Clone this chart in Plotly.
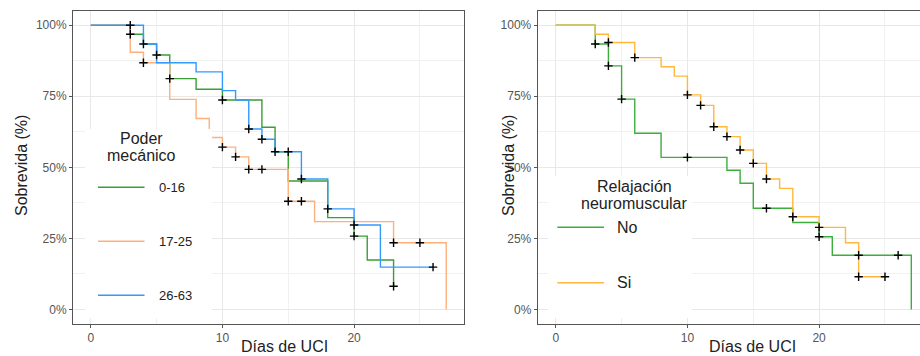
import plotly.graph_objects as go

# ---------------- data ----------------
# Left panel: "Poder mecánico"
mp_labels = ["0-16", "17-25", "26-63"]
t_016 = [0, 3, 4, 5, 6, 8, 10, 13, 14, 15, 18, 20, 21, 23]
s_016 = [100, 96.8, 93.4, 89.5, 81.2, 77.5, 73.7, 64.1, 55.5, 45.2, 32.3, 25.8, 17.4, 8.2]
c_016 = [3, 5, 6, 10, 14, 20, 23]

t_1725 = [0, 3, 4, 6, 8, 9, 10, 11, 12, 15, 17, 23, 27]
s_1725 = [100, 90.5, 86.8, 73.9, 67.2, 60.5, 57.1, 53.7, 49.3, 38.1, 30.9, 23.5, 0]
c_1725 = [4, 10, 11, 12, 13, 15, 16, 23, 25]

t_2663 = [0, 4, 5, 8, 10, 11, 12, 13, 14, 16, 18, 20, 22, 26]
s_2663 = [100, 93.4, 86.8, 83.6, 77.0, 73.7, 63.5, 59.9, 55.5, 45.9, 35.4, 29.7, 14.9, 14.9]
c_2663 = [3, 4, 12, 13, 15, 16, 18, 20, 26]

# Right panel: "Relajación neuromuscular"
rn_labels = ["No", "Si"]
t_no = [0, 3, 4, 5, 6, 8, 13, 14, 15, 18, 20, 21, 27]
s_no = [100, 93.4, 85.7, 74.0, 62.0, 53.5, 49.0, 44.4, 35.6, 30.6, 25.6, 19.1, 0]
c_no = [3, 4, 5, 10, 16, 20, 23, 26]

t_si = [0, 3, 4, 6, 8, 9, 10, 11, 12, 13, 14, 15, 16, 17, 18, 20, 22, 23, 25]
s_si = [100, 96.8, 93.9, 88.6, 85.4, 82.1, 75.5, 71.8, 64.3, 60.8, 56.1, 51.4, 45.9, 42.6, 32.6, 28.9, 23.5, 11.5, 11.5]
c_si = [4, 6, 10, 11, 12, 13, 14, 15, 16, 18, 20, 23, 25]

y_ticks = [0, 25, 50, 75, 100]
y_tick_labels = ["0%", "25%", "50%", "75%", "100%"]
x_ticks = [0, 10, 20]

# ---------------- styling ----------------
W, H = 920, 356
FONT = "Liberation Sans, Arial, sans-serif"
GREEN_L, ORANGE_L, BLUE_L = "#3a9e35", "#ffb07a", "#3399ff"
GREEN_R, ORANGE_R = "#3cae3c", "#ffb83d"


def pxx(x):
    return x / W


def pxy(y):
    return 1 - y / H


def surv_at(ts, ss, t):
    v = ss[0]
    for ti, si in zip(ts, ss):
        if ti <= t:
            v = si
    return v


fig = go.Figure()

left = [(t_016, s_016, c_016, GREEN_L), (t_1725, s_1725, c_1725, ORANGE_L),
        (t_2663, s_2663, c_2663, BLUE_L)]
right = [(t_no, s_no, c_no, GREEN_R), (t_si, s_si, c_si, ORANGE_R)]

CENSOR = dict(symbol="cross-thin", size=6, line=dict(color="black", width=1.4))

for (ts, ss, cs, col), name in zip(left, mp_labels):
    fig.add_trace(go.Scatter(x=ts, y=ss, mode="lines", line_shape="hv",
                             line=dict(color=col, width=1.4), name=name,
                             showlegend=False, xaxis="x", yaxis="y"))
for (ts, ss, cs, col), name in zip(left, mp_labels):
    fig.add_trace(go.Scatter(x=cs, y=[surv_at(ts, ss, c) for c in cs], mode="markers",
                             marker=CENSOR, showlegend=False, xaxis="x", yaxis="y"))

for (ts, ss, cs, col), name in zip(right, rn_labels):
    fig.add_trace(go.Scatter(x=ts, y=ss, mode="lines", line_shape="hv",
                             line=dict(color=col, width=1.4), name=name,
                             showlegend=False, xaxis="x2", yaxis="y2"))
for (ts, ss, cs, col), name in zip(right, rn_labels):
    fig.add_trace(go.Scatter(x=cs, y=[surv_at(ts, ss, c) for c in cs], mode="markers",
                             marker=CENSOR, showlegend=False, xaxis="x2", yaxis="y2"))

ydom = [pxy(323.7), pxy(11)]
axis_common = dict(showline=True, linecolor="#555555", linewidth=1, ticks="outside",
                   ticklen=3, tickcolor="#555555", gridcolor="#e8e8e8", gridwidth=1,
                   zeroline=False, tickfont=dict(family=FONT, size=12, color="#555555"),
                   automargin=False)
xminor = dict(showgrid=True, dtick=5, tick0=0, gridcolor="#f1f1f1", gridwidth=1, ticks="")
yminor = dict(showgrid=True, dtick=12.5, tick0=0, gridcolor="#f1f1f1", gridwidth=1, ticks="")

fig.update_layout(
    width=W, height=H, margin=dict(l=0, r=0, t=0, b=0),
    plot_bgcolor="white", paper_bgcolor="white",
    font=dict(family=FONT, color="#222222"),
    showlegend=False,
    xaxis=dict(domain=[pxx(73), pxx(464)], range=[-1.35, 28.35], tickmode="array",
               tickvals=x_ticks, mirror=True, minor=xminor, anchor="y", **axis_common),
    yaxis=dict(domain=ydom, range=[-5, 105], tickmode="array", tickvals=y_ticks,
               ticktext=y_tick_labels, mirror=True, minor=yminor, anchor="x", **axis_common),
    xaxis2=dict(domain=[pxx(537.7), 1.0], range=[-1.37, 27.66], tickmode="array",
                tickvals=x_ticks, mirror=True, minor=xminor, anchor="y2", **axis_common),
    yaxis2=dict(domain=ydom, range=[-5, 105], tickmode="array", tickvals=y_ticks,
                ticktext=y_tick_labels, mirror=False, minor=yminor, anchor="x2", **axis_common),
)

shapes = []
annotations = []

# axis titles
for cx in (284.5, 752):
    annotations.append(dict(x=pxx(cx), y=pxy(346), xref="paper", yref="paper",
                            text="Días de UCI", showarrow=False,
                            font=dict(family=FONT, size=16, color="#222222"),
                            xanchor="center", yanchor="middle"))
for cx in (22, 509):
    annotations.append(dict(x=pxx(cx), y=pxy(166), xref="paper", yref="paper",
                            text="Sobrevida (%)", showarrow=False, textangle=-90,
                            font=dict(family=FONT, size=16, color="#222222"),
                            xanchor="center", yanchor="middle"))

# legend: left
shapes.append(dict(type="rect", xref="paper", yref="paper", layer="above",
                   x0=pxx(85), x1=pxx(212), y0=pxy(318), y1=pxy(129),
                   fillcolor="white", line=dict(width=0)))
for i, line in enumerate(["Poder", "mecánico"]):
    annotations.append(dict(x=pxx(141.5), y=pxy(138.3 + 16.7 * i), xref="paper", yref="paper",
                            text=line, showarrow=False, xanchor="center", yanchor="middle",
                            font=dict(family=FONT, size=16, color="#222222")))
for i, ((ts, ss, cs, col), name) in enumerate(zip(left, mp_labels)):
    yy = 187.3 + 54 * i
    shapes.append(dict(type="line", xref="paper", yref="paper", layer="above",
                       x0=pxx(98), x1=pxx(144.5), y0=pxy(yy), y1=pxy(yy),
                       line=dict(color=col, width=1.4)))
    annotations.append(dict(x=pxx(157), y=pxy(yy), xref="paper", yref="paper",
                            text=name, showarrow=False, xanchor="left", yanchor="middle",
                            font=dict(family=FONT, size=13, color="#222222")))

# legend: right
shapes.append(dict(type="rect", xref="paper", yref="paper", layer="above",
                   x0=pxx(548), x1=pxx(692), y0=pxy(318), y1=pxy(176),
                   fillcolor="white", line=dict(width=0)))
for i, line in enumerate(["Relajación", "neuromuscular"]):
    annotations.append(dict(x=pxx(634.6), y=pxy(186.7 + 16.6 * i), xref="paper", yref="paper",
                            text=line, showarrow=False, xanchor="center", yanchor="middle",
                            font=dict(family=FONT, size=16, color="#222222")))
for i, ((ts, ss, cs, col), name) in enumerate(zip(right, rn_labels)):
    yy = 227.3 + 55.4 * i
    shapes.append(dict(type="line", xref="paper", yref="paper", layer="above",
                       x0=pxx(557.3), x1=pxx(604), y0=pxy(yy), y1=pxy(yy),
                       line=dict(color=col, width=1.4)))
    annotations.append(dict(x=pxx(615), y=pxy(yy), xref="paper", yref="paper",
                            text=name, showarrow=False, xanchor="left", yanchor="middle",
                            font=dict(family=FONT, size=16, color="#222222")))

fig.update_layout(shapes=shapes, annotations=annotations)
fig.write_html("out.html", config={"displayModeBar": False},
               post_script="document.body.style.margin='0';")
